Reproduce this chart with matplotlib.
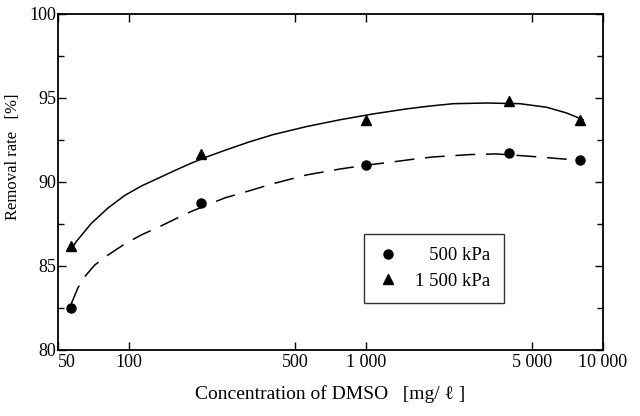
import matplotlib
matplotlib.use("Agg")
import matplotlib.pyplot as plt
from matplotlib.ticker import FixedLocator, NullLocator, MultipleLocator

plt.rcParams["font.family"] = ["Liberation Serif", "DejaVu Serif"]

# measured points
conc = [57, 200, 1000, 4000, 8000]
rate_500 = [82.5, 88.75, 91.0, 91.7, 91.3]
rate_1500 = [86.2, 91.65, 93.7, 94.8, 93.7]

# fitted curves
curve_x_1500 = [58.5, 59.7, 69.2, 81.3, 95.7, 112.5, 132.4, 155.6, 182.9, 215,
                253, 317, 405, 561, 774, 1071, 1482, 1859, 2333, 3228, 4459,
                5780, 7015, 8246]
curve_y_1500 = [86.25, 86.45, 87.54, 88.45, 89.2, 89.76, 90.22, 90.68, 91.12,
                91.52, 91.88, 92.36, 92.82, 93.3, 93.7, 94.05, 94.35, 94.52,
                94.66, 94.7, 94.66, 94.45, 94.11, 93.71]
curve_x_500 = [56.9, 60.7, 64.8, 71.5, 81.3, 95.7, 112.5, 132.4, 155.6, 182.9,
               253, 317, 405, 561, 774, 1000, 1259, 1632, 1920, 2750, 3559,
               5253, 6796, 8395]
curve_y_500 = [82.75, 83.7, 84.36, 85.06, 85.65, 86.31, 86.85, 87.3, 87.78,
               88.25, 89.05, 89.45, 89.9, 90.42, 90.77, 91.0, 91.17, 91.38,
               91.49, 91.63, 91.67, 91.5, 91.37, 91.29]

xticks = [50, 100, 500, 1000, 5000, 10000]
xtick_labels = ["50", "100", "500", "1 000", "5 000", "10 000"]
yticks = [80, 85, 90, 95, 100]

fig = plt.figure(figsize=(6.4, 4.16), dpi=100)
ax = fig.add_axes([0.0906, 0.1587, 0.8514, 0.8077])

ax.plot(curve_x_1500, curve_y_1500, color="black", lw=1.1)
ax.plot(curve_x_500, curve_y_500, color="black", lw=1.1, dashes=(13, 7))
ax.plot(conc, rate_500, "o", color="black", ms=6.5, label="\u2007 500 kPa")
ax.plot(conc, rate_1500, "^", color="black", ms=7.5, label="1 500 kPa")

ax.set_xscale("log")
ax.set_xlim(50, 10000)
ax.set_ylim(80, 100)

ax.xaxis.set_major_locator(FixedLocator(xticks))
ax.xaxis.set_minor_locator(NullLocator())
ax.set_xticklabels(xtick_labels)
ax.yaxis.set_major_locator(FixedLocator(yticks))
ax.yaxis.set_minor_locator(MultipleLocator(2.5))

ax.tick_params(which="both", direction="in", top=True, right=True,
               labelsize=13, width=1.0)
ax.tick_params(which="major", length=6)
ax.tick_params(which="minor", length=4)
ax.tick_params(axis="x", pad=3)
ax.tick_params(axis="y", pad=1)
ax.get_xticklabels()[0].set_horizontalalignment("left")

for sp in ax.spines.values():
    sp.set_linewidth(1.3)

ax.set_xlabel("Concentration of DMSO   [mg/ \u2113 ]", fontsize=14, labelpad=10)
ax.set_ylabel("Removal rate   [%]", fontsize=12)
ax.yaxis.set_label_coords(-0.068, 0.574)

leg = ax.legend(loc="upper left", bbox_to_anchor=(0.561, 0.345),
                fontsize=13.5, fancybox=False, frameon=True, handletextpad=0.85,
                borderpad=0.7, labelspacing=0.45, handlelength=1.2,
                borderaxespad=0)
leg.get_frame().set_edgecolor("black")
leg.get_frame().set_linewidth(1.0)

fig.savefig("out.png", dpi=100)
